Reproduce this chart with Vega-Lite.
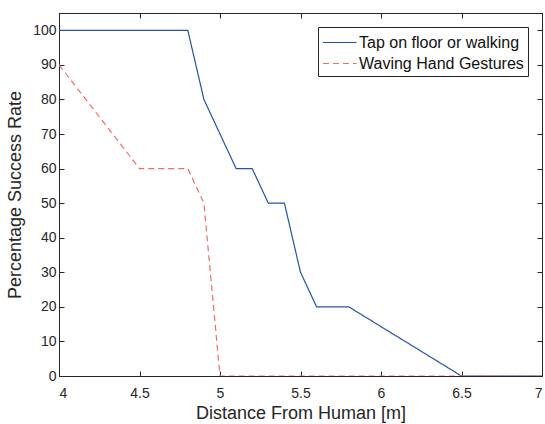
{
  "$schema": "https://vega.github.io/schema/vega-lite/v6.json",
  "width": 483,
  "height": 363,
  "autosize": {"type": "none"},
  "padding": {"left": 59, "top": 13, "right": 3, "bottom": 48},
  "background": "white",
  "config": {
    "font": "Liberation Sans",
    "view": {"stroke": "#262626", "strokeWidth": 1},
    "axis": {
      "grid": false,
      "domainColor": "#262626",
      "tickColor": "#262626",
      "labelColor": "#262626",
      "titleColor": "#262626",
      "labelFont": "Liberation Sans",
      "titleFont": "Liberation Sans",
      "labelFontSize": 14,
      "titleFontSize": 18,
      "titleFontWeight": "normal",
      "tickSize": -5,
      "domainWidth": 1
    }
  },
  "data": {
    "values": [
      {"d": 4.0, "rate": 100, "series": "Tap on floor or walking"},
      {"d": 4.8, "rate": 100, "series": "Tap on floor or walking"},
      {"d": 4.9, "rate": 80, "series": "Tap on floor or walking"},
      {"d": 5.1, "rate": 60, "series": "Tap on floor or walking"},
      {"d": 5.2, "rate": 60, "series": "Tap on floor or walking"},
      {"d": 5.3, "rate": 50, "series": "Tap on floor or walking"},
      {"d": 5.4, "rate": 50, "series": "Tap on floor or walking"},
      {"d": 5.5, "rate": 30, "series": "Tap on floor or walking"},
      {"d": 5.6, "rate": 20, "series": "Tap on floor or walking"},
      {"d": 5.8, "rate": 20, "series": "Tap on floor or walking"},
      {"d": 6.5, "rate": 0, "series": "Tap on floor or walking"},
      {"d": 7.0, "rate": 0, "series": "Tap on floor or walking"},
      {"d": 4.0, "rate": 90, "series": "Waving Hand Gestures"},
      {"d": 4.5, "rate": 60, "series": "Waving Hand Gestures"},
      {"d": 4.8, "rate": 60, "series": "Waving Hand Gestures"},
      {"d": 4.9, "rate": 50, "series": "Waving Hand Gestures"},
      {"d": 5.0, "rate": 0, "series": "Waving Hand Gestures"},
      {"d": 7.0, "rate": 0, "series": "Waving Hand Gestures"}
    ]
  },
  "layer": [
    {
      "mark": {"type": "line", "strokeWidth": 1.2, "clip": true},
      "encoding": {
        "x": {
          "field": "d", "type": "quantitative",
          "scale": {"domain": [4, 7], "nice": false, "zero": false},
          "axis": {"values": [4, 4.5, 5, 5.5, 6, 6.5, 7], "format": "~g", "title": "Distance From Human [m]", "labelPadding": 15, "titlePadding": 4}
        },
        "y": {
          "field": "rate", "type": "quantitative",
          "scale": {"domain": [0, 105], "nice": false},
          "axis": {"values": [0, 10, 20, 30, 40, 50, 60, 70, 80, 90, 100], "title": "Percentage Success Rate", "labelPadding": 8, "titlePadding": 8}
        },
        "color": {
          "field": "series", "type": "nominal",
          "scale": {"domain": ["Tap on floor or walking", "Waving Hand Gestures"], "range": ["#2452ad", "#f26a6a"]},
          "legend": {
            "title": null,
            "orient": "top-right",
            "offset": 14,
            "strokeColor": "#262626",
            "fillColor": "white",
            "padding": 4,
            "labelFontSize": 16,
            "labelLimit": 400,
            "labelColor": "#111111",
            "symbolType": "M-1,0H2.2",
            "symbolSize": 441,
            "symbolStrokeWidth": 1.2,
            "symbolFillColor": "transparent",
            "rowPadding": 1,
            "labelOffset": 14
          }
        },
        "strokeDash": {
          "field": "series", "type": "nominal",
          "scale": {"domain": ["Tap on floor or walking", "Waving Hand Gestures"], "range": [[1, 0], [6, 4]]},
          "legend": null
        }
      }
    },
    {
      "mark": {"type": "line", "opacity": 0},
      "encoding": {
        "x": {
          "field": "d", "type": "quantitative",
          "scale": {"domain": [4, 7], "nice": false, "zero": false},
          "axis": {"orient": "top", "values": [4, 4.5, 5, 5.5, 6, 6.5, 7], "labels": false, "title": null}
        },
        "y": {
          "field": "rate", "type": "quantitative",
          "scale": {"domain": [0, 105], "nice": false},
          "axis": {"orient": "right", "values": [0, 10, 20, 30, 40, 50, 60, 70, 80, 90, 100], "labels": false, "title": null}
        }
      }
    }
  ],
  "resolve": {"axis": {"x": "independent", "y": "independent"}}
}
